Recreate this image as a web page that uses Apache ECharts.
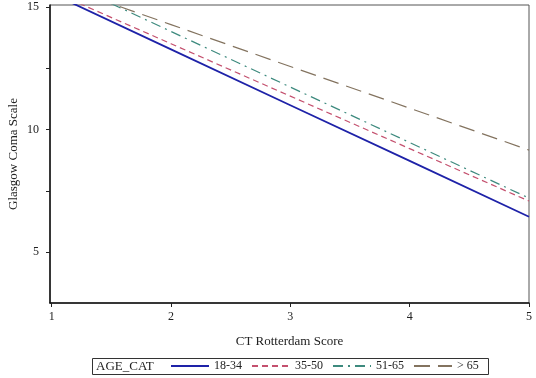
<!DOCTYPE html>
<html lang="en" style="height: 100%">
<head>
<meta charset="utf-8">
<title>GCS vs CT Rotterdam Score</title>
</head>
<body style="height: 100%; margin: 0; background: #fff">
<div id="container" style="width: 536px; height: 378px"></div>
<script type="text/javascript" src="https://cdn.jsdelivr.net/npm/echarts@6/dist/echarts.min.js"></script>
<script type="text/javascript">
// CT Rotterdam score (x) and fitted Glasgow Coma Scale per age group
var ctScore = [1, 2, 3, 4, 5];
var age18to34 = [15.55, 13.27, 10.99, 8.72, 6.44];
var age35to50 = [15.64, 13.50, 11.36, 9.22, 7.08];
var age51to65 = [16.27, 14.00, 11.73, 9.47, 7.20];
var ageOver65 = [15.99, 14.28, 12.57, 10.87, 9.16];

var xTicks = [1, 2, 3, 4, 5];
var yLabels = [5, 10, 15];
var yTicks = [5, 7.5, 10, 12.5, 15];

var font = '"Liberation Serif", "DejaVu Serif", serif';

function pairs(ys) {
  return ctScore.map(function (x, i) { return [x, ys[i]]; });
}

function makeSeries(name, ys, color, width, dash) {
  return {
    name: name,
    type: 'line',
    data: pairs(ys),
    symbol: 'none',
    clip: true,
    silent: true,
    lineStyle: { color: color, width: width, type: dash },
    itemStyle: { color: color }
  };
}

var myChart = echarts.init(document.getElementById('container'));

var option = {
  animation: false,
  backgroundColor: '#fff',
  textStyle: { fontFamily: font },
  grid: {
    left: 50, right: 7, top: 5, bottom: 75,
    outerBoundsMode: 'none',
    containLabel: false,
    show: true, borderColor: '#555', borderWidth: 1
  },
  xAxis: {
    type: 'value',
    min: 0.986,
    max: 5,
    name: 'CT Rotterdam Score',
    nameLocation: 'middle',
    nameGap: 32,
    nameTextStyle: { fontFamily: font, fontSize: 13, color: '#222' },
    axisLine: { lineStyle: { color: '#111', width: 1.5 } },
    axisTick: { show: true, length: 4, customValues: xTicks, lineStyle: { color: '#222' } },
    axisLabel: { customValues: xTicks, margin: 8, fontFamily: font, fontSize: 12, color: '#222' },
    splitLine: { show: false }
  },
  yAxis: {
    type: 'value',
    min: 2.92,
    max: 15.08,
    name: 'Glasgow Coma Scale',
    nameLocation: 'middle',
    nameGap: 30,
    nameMoveOverlap: false,
    nameTextStyle: { fontFamily: font, fontSize: 13, color: '#222' },
    axisLine: { show: true, lineStyle: { color: '#111', width: 1.5 } },
    axisTick: { show: true, length: 4, customValues: yTicks, lineStyle: { color: '#222' } },
    axisLabel: { customValues: yLabels, margin: 11, fontFamily: font, fontSize: 12, color: '#222' },
    splitLine: { show: false }
  },
  legend: {
    left: 170,
    top: 360,
    padding: 0,
    itemWidth: 38,
    itemHeight: 12,
    itemGap: 9,
    selectedMode: false,
    itemStyle: { opacity: 0 },
    textStyle: { fontFamily: font, fontSize: 12, color: '#222' },
    data: ['18-34', '35-50', '51-65', '> 65']
  },
  graphic: [
    {
      type: 'rect',
      shape: { x: 92.5, y: 358.5, width: 396, height: 16 },
      style: { fill: 'none', stroke: '#333', lineWidth: 1 },
      silent: true
    },
    {
      type: 'text',
      left: 96,
      top: 360,
      style: { text: 'AGE_CAT', font: '13px ' + font, fill: '#222' },
      silent: true
    }
  ],
  series: [
    makeSeries('18-34', age18to34, '#1e22a8', 1.8, 'solid'),
    makeSeries('35-50', age35to50, '#c4506e', 1.2, [6, 4]),
    makeSeries('51-65', age51to65, '#3d8a7e', 1.2, [10, 5, 2, 5]),
    makeSeries('> 65', ageOver65, '#83735f', 1.2, [16, 8])
  ]
};

myChart.setOption(option);
window.addEventListener('resize', myChart.resize);
</script>
</body>
</html>
